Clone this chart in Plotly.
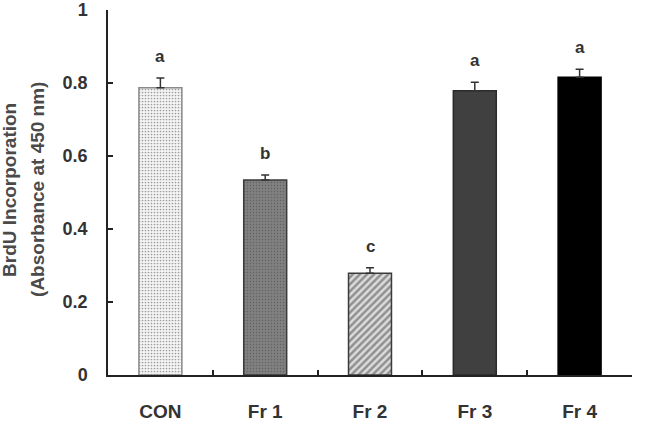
import plotly.graph_objects as go

categories = ["CON", "Fr 1", "Fr 2", "Fr 3", "Fr 4"]
values = [0.787, 0.534, 0.279, 0.779, 0.816]
errors = [0.027, 0.014, 0.015, 0.023, 0.022]
letters = ["a", "b", "c", "a", "a"]

fill_colors = ["#f4f4f4", "#808080", "#dcdcdc", "#404040", "#000000"]
pat_shapes = [".", ".", "/", "", ""]
pat_fg = ["#cfcfcf", "#747474", "#4a4a4a", "#404040", "#000000"]
line_colors = ["#8a8a8a", "#3a3a3a", "#3a3a3a", "#2a2a2a", "#000000"]

fig = go.Figure()
fig.add_trace(go.Bar(
    x=categories, y=values, width=0.41,
    marker=dict(
        color=fill_colors,
        line=dict(color=line_colors, width=1.5),
        pattern=dict(shape=pat_shapes, fgcolor=pat_fg, bgcolor=fill_colors,
                     size=[3, 3, 5, 4, 4], solidity=[0.25, 0.2, 0.5, 0.3, 0.3]),
    ),
    error_y=dict(type="data", array=errors, arrayminus=[0]*len(errors),
                 symmetric=False, color="#333333", thickness=1.5, width=4),
))

for c, v, e, l in zip(categories, values, errors, letters):
    fig.add_annotation(x=c, y=v + e, text="<b>" + l + "</b>", showarrow=False,
                       yanchor="bottom", yshift=10,
                       font=dict(family="Liberation Sans", size=17, color="#333333"))

title_font = dict(family="Liberation Sans", size=19, color="#4a4a4a")
fig.add_annotation(xref="paper", yref="paper", x=-98/524, y=0.507, textangle=-90,
                   text="<b>BrdU Incorporation</b>",
                   showarrow=False, xanchor="center", yanchor="middle", font=title_font)
fig.add_annotation(xref="paper", yref="paper", x=-70/524, y=0.507, textangle=-90,
                   text="<b>(Absorbance at 450 nm)</b>",
                   showarrow=False, xanchor="center", yanchor="middle", font=title_font)

fig.update_layout(
    width=650, height=424,
    margin=dict(l=108, r=18, t=10, b=49),
    plot_bgcolor="white", paper_bgcolor="white",
    showlegend=False,
    font=dict(family="Liberation Sans", color="#333333"),
)
fig.update_xaxes(
    automargin=False,
    showline=True, linecolor="#222222", linewidth=1.5,
    ticks="inside", ticklen=5, tickcolor="#222222", tickwidth=1.5,
    tickson="boundaries", showgrid=False,
    tickfont=dict(family="Liberation Sans", size=19, color="#333333", weight="bold"),
    ticklabelstandoff=18,
)
fig.update_yaxes(
    automargin=False,
    range=[0, 1], tickvals=[0, 0.2, 0.4, 0.6, 0.8, 1],
    ticktext=["0", "0.2", "0.4", "0.6", "0.8", "1"],
    showline=True, linecolor="#222222", linewidth=1.5,
    ticks="inside", ticklen=5, tickcolor="#222222", tickwidth=1.5,
    showgrid=False, zeroline=False,
    tickfont=dict(family="Liberation Sans", size=18, color="#333333", weight="bold"),
    ticklabelstandoff=15,
)

fig.write_html("out.html")
